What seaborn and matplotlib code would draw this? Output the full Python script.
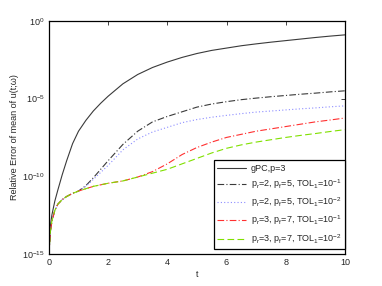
import numpy as np
import pandas as pd
import matplotlib
matplotlib.use('Agg')
import matplotlib.pyplot as plt
import seaborn as sns
from matplotlib.ticker import LogFormatterSciNotation, NullLocator

sns.set_style('white')
plt.rcParams['font.family'] = ['Liberation Sans', 'DejaVu Sans']
plt.rcParams['mathtext.fontset'] = 'custom'
plt.rcParams['mathtext.rm'] = 'Liberation Sans'
plt.rcParams['mathtext.it'] = 'Liberation Sans:italic'

# time grid
t = [0, 0.05, 0.1, 0.2, 0.3, 0.45, 0.6, 0.8, 1.0, 1.25, 1.5, 1.75, 2.0, 2.5,
     3.0, 3.5, 4.0, 4.5, 5.0, 5.5, 6.0, 6.5, 7.0, 7.5, 8.0, 8.5, 9.0, 9.5, 10.0]

# log10 of the relative error, estimated from the figure
gpc_log10 = [-15.0, -13.2, -12.5, -11.6, -10.9, -9.9, -9.0, -7.9, -7.1, -6.4, -5.8, -5.3,
             -4.85, -4.05, -3.45, -3.0, -2.65, -2.35, -2.1, -1.9, -1.75, -1.6, -1.48,
             -1.37, -1.27, -1.17, -1.07, -0.98, -0.9]
r2f5_tol1_log10 = [-15.0, -13.6, -12.9, -12.2, -11.8, -11.5, -11.3, -11.1, -10.95, -10.6,
                   -10.1, -9.55, -9.0, -7.95, -7.1, -6.5, -6.15, -5.85, -5.55, -5.35, -5.2,
                   -5.07, -4.97, -4.88, -4.8, -4.72, -4.65, -4.57, -4.5]
r2f5_tol2_log10 = [-15.0, -13.6, -12.9, -12.2, -11.8, -11.5, -11.3, -11.1, -10.95, -10.65,
                   -10.2, -9.75, -9.3, -8.3, -7.6, -7.15, -6.85, -6.55, -6.35, -6.2, -6.08,
                   -5.97, -5.87, -5.8, -5.73, -5.66, -5.6, -5.53, -5.47]
r3f7_tol1_log10 = [-15.0, -13.6, -12.9, -12.2, -11.8, -11.5, -11.3, -11.1, -10.95, -10.8,
                   -10.65, -10.55, -10.45, -10.3, -10.05, -9.7, -9.2, -8.6, -8.15, -7.8,
                   -7.5, -7.3, -7.1, -6.95, -6.8, -6.65, -6.5, -6.38, -6.25]
r3f7_tol2_log10 = [-15.0, -13.6, -12.9, -12.2, -11.8, -11.5, -11.3, -11.1, -10.95, -10.8,
                   -10.65, -10.55, -10.45, -10.3, -10.05, -9.8, -9.55, -9.2, -8.85, -8.5,
                   -8.2, -7.98, -7.8, -7.65, -7.5, -7.37, -7.25, -7.12, -7.0]

labels = ['gPC,p=3',
          r'p$_\mathregular{r}$=2, p$_\mathregular{f}$=5, TOL$_\mathregular{1}$=10$^\mathregular{-1}$',
          r'p$_\mathregular{r}$=2, p$_\mathregular{f}$=5, TOL$_\mathregular{1}$=10$^\mathregular{-2}$',
          r'p$_\mathregular{r}$=3, p$_\mathregular{f}$=7, TOL$_\mathregular{1}$=10$^\mathregular{-1}$',
          r'p$_\mathregular{r}$=3, p$_\mathregular{f}$=7, TOL$_\mathregular{1}$=10$^\mathregular{-2}$']
series = [gpc_log10, r2f5_tol1_log10, r2f5_tol2_log10, r3f7_tol1_log10, r3f7_tol2_log10]
colors = ['#3a3a3a', '#3a3a3a', '#8c8cff', '#ff3030', '#80e000']
styles = ['-', (0, (6, 2, 1, 2)), (0, (1, 2)), (0, (6, 2, 1, 2)), (0, (6, 3))]

fig = plt.figure(figsize=(3.82, 2.86), dpi=100)
ax = fig.add_axes([0.128, 0.112, 0.775, 0.815])

for vals, lab, col, ls in zip(series, labels, colors, styles):
    sns.lineplot(x=t, y=10.0 ** np.array(vals), ax=ax, color=col, linestyle=ls,
                 linewidth=0.8, label=lab)

ax.set_yscale('log')
ax.set_xlim(0, 10)
ax.set_ylim(1e-15, 1e0)
ax.set_xticks([0, 2, 4, 6, 8, 10])
ax.set_yticks([1e-15, 1e-10, 1e-5, 1e0])
ax.yaxis.set_major_formatter(LogFormatterSciNotation())
ax.yaxis.set_minor_locator(NullLocator())
ax.tick_params(direction='in', top=True, right=True, length=3, width=0.6,
               labelsize=6.5, pad=3)
for s in ax.spines.values():
    s.set_color('black')
    s.set_linewidth(0.9)

ax.set_xlabel('t', fontsize=6.5, labelpad=2)
ax.set_ylabel('Relative Error of mean of u(t;ω)', fontsize=6.5, labelpad=2)

leg = ax.legend(loc='lower right', bbox_to_anchor=(1.0, 0.02), borderaxespad=0,
                fontsize=6.5, frameon=True, fancybox=False, framealpha=1,
                edgecolor='black', handlelength=3.2, labelspacing=0.5,
                borderpad=0.4, handletextpad=0.5)
leg.get_frame().set_linewidth(0.9)

fig.savefig('out.png', dpi=100)
